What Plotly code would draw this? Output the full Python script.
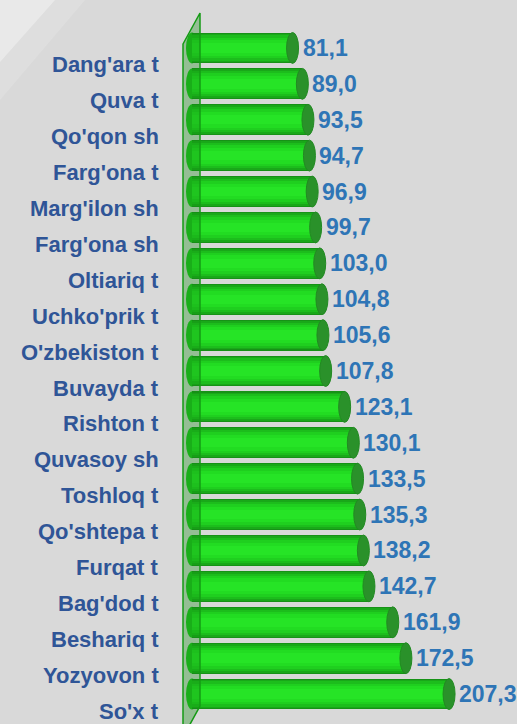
import plotly.graph_objects as go

# Districts / towns (top to bottom) and their values
districts = [
    "Dang'ara t", "Quva t", "Qo'qon sh", "Farg'ona t", "Marg'ilon sh",
    "Farg'ona sh", "Oltiariq t", "Uchko'prik t", "O'zbekiston t", "Buvayda t",
    "Rishton t", "Quvasoy sh", "Toshloq t", "Qo'shtepa t", "Furqat t",
    "Bag'dod t", "Beshariq t", "Yozyovon t", "So'x t",
]
values = [
    81.1, 89.0, 93.5, 94.7, 96.9,
    99.7, 103.0, 104.8, 105.6, 107.8,
    123.1, 130.1, 133.5, 135.3, 138.2,
    142.7, 161.9, 172.5, 207.3,
]
value_labels = [f"{v:.1f}".replace(".", ",") for v in values]

W, H = 517, 724
ML, MR, MT, MB = 176, 0, 30, 12
PW, PH = W - ML - MR, H - MT - MB
SCALE = 1.24          # pixels per unit
ZERO_PX = 192         # where the value axis starts
X0 = -(ZERO_PX - ML) / SCALE


def px(x):
    return (x - ML) / PW


def py(y):
    return (H - MB - y) / PH


fig = go.Figure()

# Cylinder shading: overlaid bars of decreasing thickness and increasing brightness
bands = [
    (0.86, "#169216"),
    (0.80, "#19a819"),
    (0.70, "#1cbd1c"),
    (0.58, "#1fcf1f"),
    (0.44, "#22dc22"),
    (0.26, "#26e426"),
]
idx = list(range(len(districts)))
for width, color in bands:
    fig.add_trace(go.Bar(
        x=values, y=idx, orientation="h", width=width,
        marker=dict(color=color, line=dict(width=0)),
        hoverinfo="skip", showlegend=False,
    ))

shapes = []
# soft light streak in the top-left corner of the background
shapes.append(dict(
    type="path", xref="paper", yref="paper", layer="below",
    path=f"M {px(0)},{py(0)} L {px(85)},{py(0)} L {px(0)},{py(100)} Z",
    fillcolor="rgba(255,255,255,0.14)", line=dict(width=0),
))
shapes.append(dict(
    type="path", xref="paper", yref="paper", layer="below",
    path=f"M {px(0)},{py(0)} L {px(55)},{py(0)} L {px(0)},{py(62)} Z",
    fillcolor="rgba(255,255,255,0.35)", line=dict(width=0),
))

for i, v in enumerate(values):
    # rounded near end of each cylinder
    shapes.append(dict(
        type="circle", xref="x", yref="y", layer="below",
        xsizemode="pixel", xanchor=0, x0=-6, x1=6,
        y0=i - 0.43, y1=i + 0.43,
        fillcolor="#1cc01c", line=dict(width=0),
    ))
    # far end cap
    shapes.append(dict(
        type="circle", xref="x", yref="y", layer="above",
        xsizemode="pixel", xanchor=v, x0=-6, x1=6,
        y0=i - 0.43, y1=i + 0.43,
        fillcolor="#2a912a", line=dict(color="#218a21", width=1),
    ))

# translucent back wall
shapes.append(dict(
    type="path", xref="paper", yref="paper", layer="above",
    path=(f"M {px(183)},{py(44)} L {px(200)},{py(13)} L {px(200)},{py(706)} "
          f"L {px(183)},{py(737)} Z"),
    fillcolor="rgba(20,140,20,0.35)", line=dict(color="#149a14", width=1.5),
))

annotations = []
for i, (name, lab, v) in enumerate(zip(districts, value_labels, values)):
    annotations.append(dict(
        x=px(160), y=i, xref="paper", yref="y", text=f"<b>{name}</b>",
        xanchor="right", yanchor="middle", xshift=0, yshift=-17,
        showarrow=False, borderpad=0,
        font=dict(family="Liberation Sans, Arial", size=22, color="#2f5597"),
    ))
    annotations.append(dict(
        x=v, y=i, xref="x", yref="y", text=f"<b>{lab}</b>",
        xanchor="left", yanchor="middle", xshift=8, yshift=0,
        showarrow=False,
        font=dict(family="Liberation Sans, Arial", size=23, color="#2e75b6"),
    ))

fig.update_layout(
    width=W, height=H,
    margin=dict(l=ML, r=MR, t=MT, b=MB, pad=0),
    paper_bgcolor="#d9d9d9", plot_bgcolor="rgba(0,0,0,0)",
    barmode="overlay", bargap=0,
    showlegend=False,
    shapes=shapes, annotations=annotations,
    xaxis=dict(range=[X0, X0 + PW / SCALE], visible=False, fixedrange=True),
    yaxis=dict(range=[len(districts) - 0.5, -0.5], visible=False, fixedrange=True),
)

fig.write_html("out.html")
